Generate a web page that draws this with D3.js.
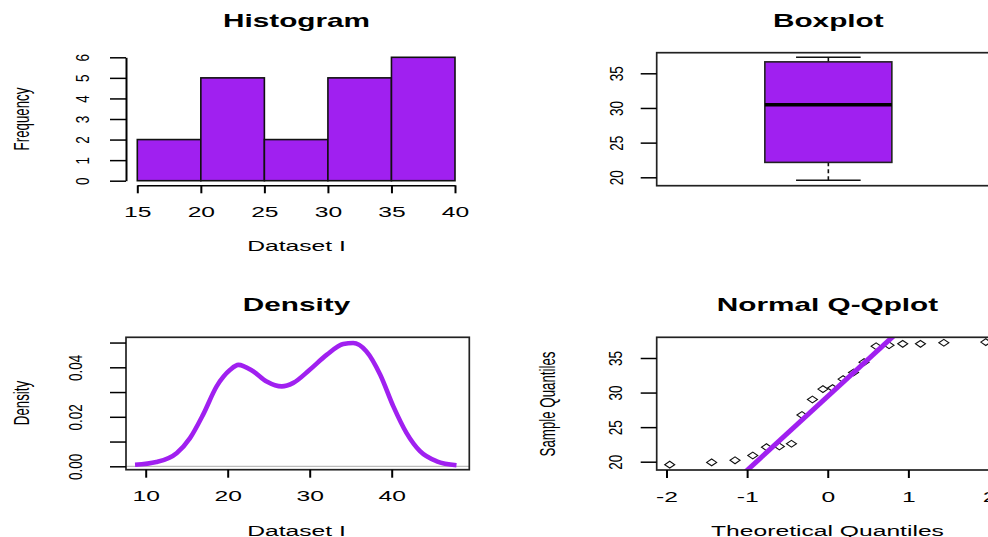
<!DOCTYPE html>
<html>
<head>
<meta charset="utf-8">
<script src="https://cdn.jsdelivr.net/npm/d3@7"></script>
<style>
  body { margin: 0; background: #fff; }
  svg { display: block; }
  text { font-family: "Liberation Sans", Arial, sans-serif; fill: #000; }
</style>
</head>
<body>
<script>
// histogram
const histBreaks = [15, 20, 25, 30, 35, 40];
const histCounts = [2, 5, 2, 5, 6];
const histTicksY = [0, 1, 2, 3, 4, 5, 6];

// boxplot: min, lower hinge, median, upper hinge, max
const boxStats = [19.57, 22.15, 30.45, 36.65, 37.3];
const boxTicks = [20, 25, 30, 35];

// density curve
const densX = [8.7, 11.3, 13.8, 15.4, 17.0, 18.65, 20.3, 21.3, 23.1, 24.75, 26.6, 28.0, 30.0, 32.1, 34.1, 35.3, 36.9, 38.6, 40.2, 41.8, 43.45, 45.5, 47.9];
const densY = [0.0006, 0.0017, 0.0054, 0.0114, 0.0209, 0.0323, 0.039, 0.041, 0.0384, 0.0343, 0.0323, 0.0337, 0.039, 0.0451, 0.0494, 0.0498, 0.0465, 0.037, 0.0242, 0.0135, 0.0061, 0.002, 0.0004];
const densTicksY = [0, 0.01, 0.02, 0.03, 0.04, 0.05];
const densLabelsY = [0, 0.02, 0.04];
const densTicksX = [10, 20, 30, 40];

// normal Q-Q plot
const qqTheo = [-1.96, -1.44, -1.15, -0.93, -0.76, -0.60, -0.45, -0.32, -0.19, -0.06, 0.06, 0.19, 0.32, 0.45, 0.60, 0.76, 0.93, 1.15, 1.44, 1.96];
const qqSample = [19.57, 19.9, 20.2, 20.9, 22.1, 22.2, 22.6, 26.75, 29.0, 30.5, 30.65, 31.95, 32.9, 34.4, 36.7, 36.85, 37.05, 37.05, 37.2, 37.3];
const qqLine = [29.45, 10.7]; // intercept, slope
const qqTicksX = [-2, -1, 0, 1, 2];
const qqTicksY = [20, 25, 30, 35];

const purple = '#a020f0';
const SX = 1.7;    // horizontal stretch of upright text
const RSX = 1.35;  // stretch of rotated tick labels
const TSX = 1.6;   // stretch of rotated axis titles

const svg = d3.select('body').append('svg')
  .attr('width', 988)
  .attr('height', 537);

function hText(g, x, y, s, size, bold) {
  return g.append('text')
    .attr('transform', `translate(${x},${y}) scale(${SX},1)`)
    .attr('text-anchor', 'middle')
    .style('font-size', size + 'px')
    .style('font-weight', bold ? 'bold' : 'normal')
    .text(s);
}

function vText(g, x, y, s, size) {
  return g.append('text')
    .attr('transform', `translate(${x},${y}) scale(${TSX},1) rotate(-90)`)
    .attr('text-anchor', 'middle')
    .style('font-size', size + 'px')
    .text(s);
}

function styleAxis(sel, side, off) {
  sel.attr('font-size', null).attr('font-family', null);
  sel.selectAll('path.domain').attr('stroke', '#000').attr('stroke-width', side === 'left' ? 2 : 1.5);
  sel.selectAll('.tick line').attr('stroke', '#000').attr('stroke-width', side === 'left' ? 1.5 : 2);
  const t = sel.selectAll('.tick text')
    .attr('x', null).attr('y', null).attr('dy', null)
    .attr('fill', '#000')
    .attr('text-anchor', 'middle');
  if (side === 'left') {
    t.attr('transform', `translate(${-off},0) scale(${RSX},1) rotate(-90)`).style('font-size', '13.5px');
  } else {
    t.attr('transform', `translate(0,${off}) scale(${SX},1)`).style('font-size', '14.5px');
  }
}

function frame(g, b) {
  g.append('rect')
    .attr('x', b.l).attr('y', b.t)
    .attr('width', b.r - b.l).attr('height', b.b - b.t)
    .attr('fill', 'none').attr('stroke', '#222').attr('stroke-width', 1.7);
}

// ---------- Histogram ----------
{
  const g = svg.append('g');
  const b = { l: 126, r: 469.3, t: 52.7, b: 185.3 };
  const x = d3.scaleLinear().domain([15, 40]).range([137.3, 455]);
  const y = d3.scaleLinear().domain([0, 6]).range([180.7, 57.3]);

  g.selectAll('rect.bar')
    .data(histCounts)
    .join('rect')
    .attr('class', 'bar')
    .attr('x', (d, i) => x(histBreaks[i]))
    .attr('width', (d, i) => x(histBreaks[i + 1]) - x(histBreaks[i]))
    .attr('y', d => y(d))
    .attr('height', d => y(0) - y(d))
    .attr('fill', purple)
    .attr('stroke', '#111')
    .attr('stroke-width', 1.6);

  g.append('g')
    .attr('transform', `translate(${b.l},0)`)
    .call(d3.axisLeft(y).tickValues(histTicksY).tickSize(16).tickSizeOuter(0).tickFormat(d3.format('d')))
    .call(s => styleAxis(s, 'left', 37));

  g.append('g')
    .attr('transform', `translate(0,${b.b})`)
    .call(d3.axisBottom(x).tickValues(histBreaks).tickSize(8).tickSizeOuter(0))
    .call(s => styleAxis(s, 'bottom', 31.5));

  hText(g, 296.5, 27, 'Histogram', 17.5, true);
  hText(g, 296.5, 251, 'Dataset I', 14.5);
  vText(g, 29, 119, 'Frequency', 13.3);
}

// ---------- Boxplot ----------
{
  const g = svg.append('g');
  const b = { l: 656.7, r: 1000, t: 52.7, b: 185.7 };
  const y = d3.scaleLinear().domain([20, 35]).range([177.3, 73.3]);
  const x = d3.scalePoint().domain(['Dataset I']).range([b.l, b.r]).padding(0.5);
  const cx = x('Dataset I');
  const boxW = 127, capW = 64.6;
  const [mn, q1, md, q3, mx] = boxStats;

  // whiskers
  [[mn, q1], [q3, mx]].forEach(([a, c]) => {
    g.append('line')
      .attr('x1', cx).attr('x2', cx)
      .attr('y1', y(a)).attr('y2', y(c))
      .attr('stroke', '#111').attr('stroke-width', 1.6)
      .attr('stroke-dasharray', '4,3');
  });
  [mn, mx].forEach(v => {
    g.append('line')
      .attr('x1', cx - capW / 2).attr('x2', cx + capW / 2)
      .attr('y1', y(v)).attr('y2', y(v))
      .attr('stroke', '#111').attr('stroke-width', 1.5);
  });
  g.append('rect')
    .attr('x', cx - boxW / 2).attr('width', boxW)
    .attr('y', y(q3)).attr('height', y(q1) - y(q3))
    .attr('fill', purple).attr('stroke', '#222').attr('stroke-width', 1.6);
  g.append('line')
    .attr('x1', cx - boxW / 2).attr('x2', cx + boxW / 2)
    .attr('y1', y(md)).attr('y2', y(md))
    .attr('stroke', '#000').attr('stroke-width', 3.5);

  frame(g, b);
  g.append('g')
    .attr('transform', `translate(${b.l},0)`)
    .call(d3.axisLeft(y).tickValues(boxTicks).tickSize(16).tickSizeOuter(0))
    .call(s => s.select('.domain').remove())
    .call(s => styleAxis(s, 'left', 34));

  hText(g, 828.3, 27, 'Boxplot', 17.5, true);
}

// ---------- Density ----------
{
  const g = svg.append('g');
  const b = { l: 126, r: 469.3, t: 337.3, b: 469.7 };
  const x = d3.scaleLinear().domain([10, 40]).range([145.7, 391.7]);
  const y = d3.scaleLinear().domain([0, 0.04]).range([466.3, 367.3]);

  g.append('line')
    .attr('x1', b.l).attr('x2', b.r)
    .attr('y1', y(0)).attr('y2', y(0))
    .attr('stroke', '#bbb').attr('stroke-width', 1.2);

  const pts = densX.map((v, i) => [v, densY[i]]);
  g.append('path')
    .datum(pts)
    .attr('fill', 'none')
    .attr('stroke', purple)
    .attr('stroke-width', 4.6)
    .attr('stroke-linejoin', 'round')
    .attr('d', d3.line().curve(d3.curveMonotoneX).x(d => x(d[0])).y(d => y(d[1])));

  frame(g, b);
  g.append('g')
    .attr('transform', `translate(${b.l},0)`)
    .call(d3.axisLeft(y).tickValues(densTicksY).tickSize(16).tickSizeOuter(0)
      .tickFormat(d => densLabelsY.includes(d) ? d3.format('.2f')(d) : ''))
    .call(s => s.select('.domain').remove())
    .call(s => styleAxis(s, 'left', 44));

  g.append('g')
    .attr('transform', `translate(0,${b.b})`)
    .call(d3.axisBottom(x).tickValues(densTicksX).tickSize(8).tickSizeOuter(0))
    .call(s => s.select('.domain').remove())
    .call(s => styleAxis(s, 'bottom', 31.5));

  hText(g, 296.5, 311, 'Density', 17.5, true);
  hText(g, 296.5, 535.5, 'Dataset I', 14.5);
  vText(g, 29, 403, 'Density', 13.3);
}

// ---------- Normal Q-Q plot ----------
{
  const g = svg.append('g');
  const b = { l: 656.7, r: 1000, t: 337.3, b: 470 };
  const x = d3.scaleLinear().domain([-2, 2]).range([666.5, 989]);
  const y = d3.scaleLinear().domain([20, 35]).range([461.7, 358]);

  svg.append('defs').append('clipPath').attr('id', 'qqclip')
    .append('rect')
    .attr('x', b.l).attr('y', b.t)
    .attr('width', b.r - b.l).attr('height', b.b - b.t);

  const pts = qqTheo.map((v, i) => [v, qqSample[i]]);
  g.append('g').attr('clip-path', 'url(#qqclip)')
    .selectAll('path.pt')
    .data(pts)
    .join('path')
    .attr('class', 'pt')
    .attr('transform', d => `translate(${x(d[0])},${y(d[1])})`)
    .attr('d', 'M-5,0L0,-3.4L5,0L0,3.4Z')
    .attr('fill', 'none')
    .attr('stroke', '#111')
    .attr('stroke-width', 1.1);

  const lx = [-3, 3];
  g.append('line')
    .attr('clip-path', 'url(#qqclip)')
    .attr('x1', x(lx[0])).attr('y1', y(qqLine[0] + qqLine[1] * lx[0]))
    .attr('x2', x(lx[1])).attr('y2', y(qqLine[0] + qqLine[1] * lx[1]))
    .attr('stroke', purple)
    .attr('stroke-width', 5);

  frame(g, b);
  g.append('g')
    .attr('transform', `translate(${b.l},0)`)
    .call(d3.axisLeft(y).tickValues(qqTicksY).tickSize(16).tickSizeOuter(0))
    .call(s => s.select('.domain').remove())
    .call(s => styleAxis(s, 'left', 35));

  g.append('g')
    .attr('transform', `translate(0,${b.b})`)
    .call(d3.axisBottom(x).tickValues(qqTicksX).tickSize(8).tickSizeOuter(0).tickFormat(d3.format('d')))
    .call(s => s.select('.domain').remove())
    .call(s => s.selectAll('.tick text').text(d => d < 0 ? '-' + Math.abs(d) : d))
    .call(s => styleAxis(s, 'bottom', 31.5));

  hText(g, 827.5, 311, 'Normal Q-Qplot', 17.5, true);
  hText(g, 827.5, 535.5, 'Theoretical Quantiles', 14.5);
  vText(g, 555, 404, 'Sample Quantiles', 13.3);
}
</script>
</body>
</html>
